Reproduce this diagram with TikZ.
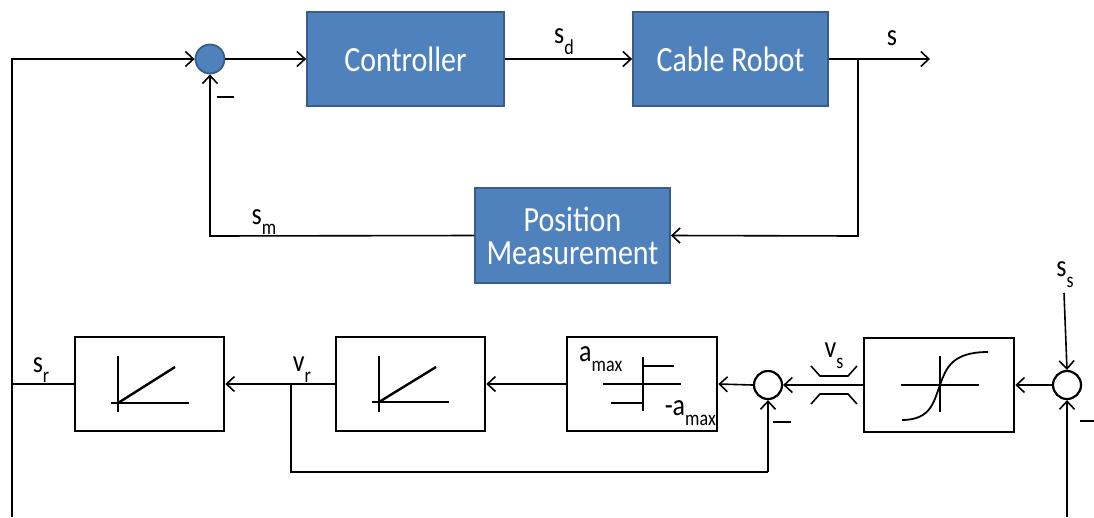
\documentclass[tikz,border=0pt]{standalone}
\usepackage{fontspec}
\setmainfont{Carlito}
\usetikzlibrary{arrows.meta}
\definecolor{bluefill}{HTML}{4F81BD}
\definecolor{blueedge}{HTML}{385D8A}
\newcommand\tallt[1]{\scalebox{1}[1.18]{#1}}
\newcommand\lab[2]{\scalebox{1}[1.18]{#1\raisebox{-0.35em}{\fontsize{18}{20}\selectfont #2}}}
\tikzset{
  bluebox/.style={draw=blueedge, fill=bluefill, line width=1.8pt, text=white,
    font=\fontsize{30}{36}\selectfont, align=center, inner sep=0pt},
  blkbox/.style={draw, line width=2.6pt, minimum width=149pt, minimum height=94pt, inner sep=0pt},
  sumblue/.style={circle, draw=blueedge, fill=bluefill, line width=1.8pt, minimum size=29pt, inner sep=0pt},
  sumw/.style={circle, draw, line width=2.2pt, minimum size=28pt, inner sep=0pt},
  conn/.style={line width=1.6pt, -{Straight Barb[length=8pt,width=15pt,line width=1.6pt]}},
  wire/.style={line width=1.6pt},
  lbl/.style={font=\fontsize{26}{30}\selectfont, inner sep=0pt},
  axis/.style={line width=1.3pt},
  ramp/.style={line width=2.4pt},
  minus/.style={line width=2pt}
}
\begin{document}
\begin{tikzpicture}[x=1pt,y=-1pt]
\useasboundingbox (0,0) rectangle (1094,517);

% top loop
\node[sumblue] (c1) at (210,59) {};
\node[bluebox, minimum width=197pt, minimum height=94pt] (ctrl) at (405.5,59) {\tallt{Controller}};
\node[bluebox, minimum width=195pt, minimum height=94pt] (robot) at (730.5,59) {\tallt{Cable Robot}};
\node[bluebox, minimum width=195pt, minimum height=95pt] (pm) at (572.5,235.5) {\tallt{Position}\\[-3pt]\tallt{Measurement}};

\coordinate (out) at (930,59);
\coordinate (b1) at (858,59);
\coordinate (b1d) at (858,236);
\coordinate (smc) at (210,236);
\coordinate (lb) at (12,517);
\coordinate (lt) at (12,59);
\coordinate (lr) at (12,384);

\draw[conn] (c1.east) -- (ctrl.west);
\draw[conn] (ctrl.east) -- (robot.west);
\draw[conn] (robot.east) -- (out);
\draw[conn] (b1) -- (b1d) -- (pm.east);
\draw[conn] (pm.west) -- (smc) -- (c1.south);
\draw[conn] (lb) -- (lt) -- (c1.west);
\draw[minus] (217,97) -- (234,97);

\node[lbl] (lsd) at (564,42) {\lab{s}{d}};
\node[lbl] (ls) at (892,38) {\tallt{s}};
\node[lbl] (lsm) at (264,222) {\lab{s}{m}};

% bottom chain
\node[blkbox] (bx1) at (149.5,384) {};
\node[blkbox] (bx2) at (410.5,384) {};
\node[blkbox, minimum width=150pt] (bx3) at (642,384) {};
\node[blkbox, minimum width=150pt] (sat) at (939,385) {};
\node[sumw] (c2) at (768,385) {};
\node[sumw] (c3) at (1067,385) {};

\coordinate (vrb) at (291,384);
\coordinate (vrd) at (291,472);
\coordinate (vrr) at (768,472);
\coordinate (ssin) at (1064,293);
\coordinate (rb) at (1067,517);

\draw[wire] (bx1.west) -- (lr);
\draw[conn] (bx2.west) -- (bx1.east);
\draw[wire] (vrb) -- (vrd) -- (vrr);
\draw[conn] (vrr) -- (c2.south);
\draw[conn] (bx3.west) -- (bx2.east);
\draw[conn] (c2.west) -- (bx3.east);
\draw[conn] (sat.west) -- (c2.east);
\draw[conn] (c3.west) -- (sat.east);
\draw[conn] (ssin) -- (c3.north);
\draw[conn] (rb) -- (c3.south);
\draw[minus] (773,422) -- (791,422);
\draw[minus] (1080,421) -- (1096,421);

\node[lbl] (lsr) at (41,370) {\lab{s}{r}};
\node[lbl] (lvr) at (302,370) {\lab{v}{r}};
\node[lbl] (lvs) at (834,356) {\lab{v}{s}};
\node[lbl] (lss) at (1065,275) {\lab{s}{s}};

% icons box1
\draw[axis] (118,356) -- (118,412);
\draw[axis] (111,403) -- (189,403);
\draw[ramp] (118,403) -- (175,367);
% icons box2
\draw[axis] (379,356) -- (379,412);
\draw[axis] (372,402) -- (449,402);
\draw[ramp] (379,402) -- (436,367);
% icon box3
\draw[axis] (603,384) -- (681,384);
\draw[axis] (643,357) -- (643,411);
\draw[ramp, line width=2pt] (643,366) -- (674,366);
\draw[ramp, line width=2pt] (611,403) -- (643,403);
\node[lbl, anchor=west] (lam) at (579,359) {\lab{a}{max}};
\node[lbl, anchor=east] (lnam) at (716,413) {\lab{-a}{max}};
% sat icon
\draw[axis] (901,385) -- (979,385);
\draw[axis] (940,356) -- (940,412);
\draw[line width=1.8pt] (902,420) .. controls (932,420) and (934,400) .. (940,385) .. controls (946,368) and (952,352) .. (988,352);
% v_s narrowing marks
\draw[line width=1.6pt] (811,366) -- (820,376) -- (848,376) -- (857,366);
\draw[line width=1.6pt] (811,404) -- (820,394) -- (848,394) -- (857,404);
\end{tikzpicture}
\end{document}
